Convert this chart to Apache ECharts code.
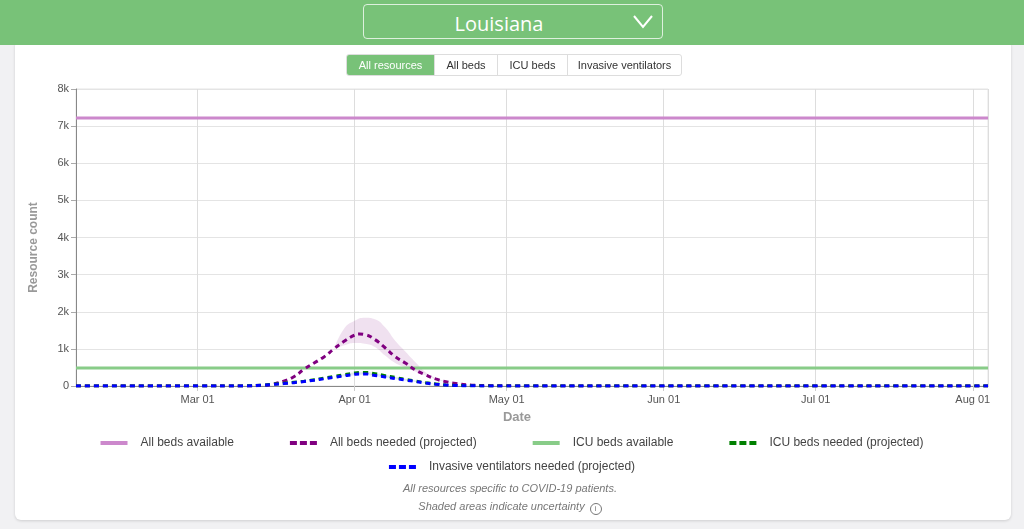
<!DOCTYPE html>
<html>
<head>
<meta charset="utf-8">
<script src="https://cdn.jsdelivr.net/npm/echarts@6/dist/echarts.min.js"></script>
<style>
  html, body { margin: 0; padding: 0; width: 1024px; height: 529px; overflow: hidden; background: #f1f1f3; font-family: "Liberation Sans", Arial, sans-serif; }
  #header { position: absolute; left: 0; top: 0; width: 1024px; height: 45px; background: #78c278; z-index: 3; }
  #select { position: absolute; left: 363px; top: 4px; width: 300px; height: 35px; border: 1px solid rgba(255,255,255,0.75); border-radius: 4px; box-sizing: border-box; }
  #select span { position: absolute; left: 0; width: 270px; top: 5px; text-align: center; color: #fff; font-family: "Open Sans", Lato, sans-serif; font-weight: 400; font-size: 20px; }
  #select svg { position: absolute; left: 269px; top: 10px; }
  #card { position: absolute; left: 15px; top: 40px; width: 996px; height: 480px; background: #fff; border-radius: 6px; box-shadow: 0 1px 3px rgba(0,0,0,0.15); z-index: 1; }
  #btns { position: absolute; left: 346px; top: 54px; height: 22px; display: flex; z-index: 3; border: 1px solid #ddd; border-radius: 3px; box-sizing: border-box; overflow: hidden; }
  #btns div { font-size: 11px; color: #333; line-height: 20px; text-align: center; border-left: 1px solid #ddd; box-sizing: border-box; }
  #btns div:first-child { border-left: none; background: #78c278; color: #fff; }
  #chart { position: absolute; left: 0; top: 0; width: 1024px; height: 529px; z-index: 2; }
  #foot { position: absolute; left: 0; width: 1020px; top: 479px; text-align: center; font-size: 11px; font-style: italic; color: #777; z-index: 3; line-height: 18px; }
  .info { display: inline-block; width: 10px; height: 10px; border: 1px solid #777; border-radius: 50%; font-size: 8px; line-height: 10px; font-style: normal; text-align: center; vertical-align: -1px; margin-left: 2px; }
</style>
</head>
<body>
<div id="header">
  <div id="select"><span>Louisiana</span>
    <svg width="20" height="14" viewBox="0 0 20 14"><polyline points="1,1 10,12 19,1" fill="none" stroke="#fff" stroke-width="2"/></svg>
  </div>
</div>
<div id="card"></div>
<div id="btns"><div style="width:87px">All resources</div><div style="width:63px">All beds</div><div style="width:70px">ICU beds</div><div style="width:114px">Invasive ventilators</div></div>
<div id="chart"></div>
<div id="foot">All resources specific to COVID-19 patients.<br>Shaded areas indicate uncertainty <span class="info">i</span></div>
<script>
// ---------- data ----------
const axisMin = '2020-02-06';
const axisMax = '2020-08-04';
const yTickLabels = ['0', '1k', '2k', '3k', '4k', '5k', '6k', '7k', '8k'];
const monthLabels = { 2: 'Mar 01', 3: 'Apr 01', 4: 'May 01', 5: 'Jun 01', 6: 'Jul 01', 7: 'Aug 01' };

const allBedsAvailable = 7220;
const icuBedsAvailable = 485;

const dates = ['2020-02-06','2020-03-01','2020-03-10','2020-03-14','2020-03-16','2020-03-18','2020-03-20','2020-03-22','2020-03-24','2020-03-26','2020-03-28','2020-03-30','2020-04-01','2020-04-02','2020-04-03','2020-04-05','2020-04-07','2020-04-09','2020-04-11','2020-04-13','2020-04-15','2020-04-17','2020-04-19','2020-04-21','2020-04-24','2020-04-28','2020-05-05','2020-08-04'];
const allBedsNeeded = [0,0,2,15,55,130,250,450,620,790,1010,1210,1370,1400,1385,1250,1030,790,620,430,300,190,115,65,27,10,3,0];
const icuBedsNeeded = [0,0,3,25,50,75,100,130,170,215,260,305,350,362,365,330,280,230,180,135,90,55,28,15,6,2,0,0];
const ventNeeded    = [0,0,2,22,45,65,90,120,155,195,235,275,315,325,325,285,245,200,160,120,80,48,25,12,5,2,0,0];

const bandDates = ['2020-03-28','2020-03-30','2020-04-01','2020-04-03','2020-04-05','2020-04-07','2020-04-09','2020-04-11','2020-04-13','2020-04-15','2020-04-17','2020-04-19','2020-04-21','2020-04-24'];
const allBedsLower = [1000,1100,1160,1140,1050,820,620,500,390,285,185,112,63,27];
const allBedsUpper = [1020,1560,1760,1840,1800,1580,1220,930,640,370,215,130,72,27];
const icuLower  = [258,290,330,345,310,265,215,168,125,84,52,27,15,6];
const icuUpper  = [262,320,372,385,350,300,248,195,148,98,58,29,15,6];
const ventLower = [233,260,290,300,262,222,182,142,106,72,45,24,12,5];
const ventUpper = [237,292,340,352,310,268,220,178,134,88,52,26,12,5];

// ---------- build ----------
const pair = (xs, ys) => xs.map((d, i) => [d, ys[i]]);
const diff = (lo, hi) => hi.map((v, i) => v - lo[i]);

function band(name, lo, hi, color) {
  return [
    { name: name + '-lo', type: 'line', stack: name, data: pair(bandDates, lo), symbol: 'none', smooth: true,
      lineStyle: { width: 0, opacity: 0 }, silent: true, z: 1 },
    { name: name + '-hi', type: 'line', stack: name, data: pair(bandDates, diff(lo, hi)), symbol: 'none', smooth: true,
      lineStyle: { width: 0, opacity: 0 }, areaStyle: { color: color }, silent: true, z: 1 }
  ];
}

const dash = [5, 4];
const series = [
  ...band('bAll', allBedsLower, allBedsUpper, 'rgba(128,0,128,0.17)'),
  ...band('bIcu', icuLower, icuUpper, 'rgba(0,128,0,0.15)'),
  ...band('bVent', ventLower, ventUpper, 'rgba(0,0,255,0.15)'),
  { name: 'All beds available', type: 'line', symbol: 'none', data: [[axisMin, allBedsAvailable], [axisMax, allBedsAvailable]],
    lineStyle: { color: '#cc88cc', width: 3 }, itemStyle: { color: '#cc88cc' }, z: 3 },
  { name: 'All beds needed (projected)', type: 'line', symbol: 'none', smooth: true, data: pair(dates, allBedsNeeded),
    lineStyle: { color: '#800080', width: 3, type: dash }, itemStyle: { color: '#800080' }, z: 4 },
  { name: 'ICU beds available', type: 'line', symbol: 'none', data: [[axisMin, icuBedsAvailable], [axisMax, icuBedsAvailable]],
    lineStyle: { color: '#88cc88', width: 3 }, itemStyle: { color: '#88cc88' }, z: 3 },
  { name: 'ICU beds needed (projected)', type: 'line', symbol: 'none', smooth: true, data: pair(dates, icuBedsNeeded),
    lineStyle: { color: '#008000', width: 3, type: dash }, itemStyle: { color: '#008000' }, z: 4 },
  { name: 'Invasive ventilators needed (projected)', type: 'line', symbol: 'none', smooth: true, data: pair(dates, ventNeeded),
    lineStyle: { color: '#0000ff', width: 3, type: dash }, itemStyle: { color: '#0000ff' }, z: 5 }
];

const solidIcon = 'path://M0,0H27V4H0Z';
const dashIcon = 'path://M0,0H7V4H0Z M10,0H17V4H10Z M20,0H27V4H20Z';
const legendCommon = {
  left: 'center', itemWidth: 27, itemHeight: 4, itemGap: 56,
  textStyle: { fontSize: 12, color: '#444', fontFamily: 'Liberation Sans', padding: [0, 0, 0, 8] },
  selectedMode: false
};

const chart = echarts.init(document.getElementById('chart'));
chart.setOption({
  animation: false,
  textStyle: { fontFamily: 'Liberation Sans' },
  grid: { left: 76, right: 36, top: 89, bottom: 143, show: true, borderColor: '#e4e4e4', borderWidth: 1 },
  xAxis: {
    type: 'time', min: axisMin, max: axisMax,
    minInterval: 28 * 86400000, maxInterval: 31 * 86400000,
    name: 'Date', nameLocation: 'middle', nameGap: 25,
    nameTextStyle: { color: '#999', fontSize: 13, fontWeight: 'bold', padding: [0, 30, 0, 0] },
    axisLine: { lineStyle: { color: '#888' } },
    axisTick: { show: true, length: 5, lineStyle: { color: '#ccc' } },
    axisLabel: { color: '#555', fontSize: 11, margin: 8, showMinLabel: false, showMaxLabel: false,
      formatter: v => monthLabels[new Date(v).getMonth()] || '' },
    splitLine: { show: true, lineStyle: { color: '#ddd' } },
    minorTick: { show: false }
  },
  yAxis: {
    type: 'value', min: 0, max: 8000, interval: 1000,
    name: 'Resource count', nameLocation: 'middle', nameGap: 36,
    nameTextStyle: { color: '#999', fontSize: 12, fontWeight: 'bold', padding: [0, 0, 0, -20] },
    axisLine: { show: true, lineStyle: { color: '#888' } },
    axisTick: { show: true, length: 5, lineStyle: { color: '#aaa' } },
    axisLabel: { color: '#555', fontSize: 11, margin: 7, formatter: v => yTickLabels[Math.round(v / 1000)] },
    splitLine: { show: true, lineStyle: { color: '#e4e4e4' } }
  },
  legend: [
    Object.assign({}, legendCommon, { top: 432, data: [
      { name: 'All beds available', icon: solidIcon },
      { name: 'All beds needed (projected)', icon: dashIcon },
      { name: 'ICU beds available', icon: solidIcon },
      { name: 'ICU beds needed (projected)', icon: dashIcon }] }),
    Object.assign({}, legendCommon, { top: 456, data: [
      { name: 'Invasive ventilators needed (projected)', icon: dashIcon }] })
  ],
  series: series
});
</script>
</body>
</html>
